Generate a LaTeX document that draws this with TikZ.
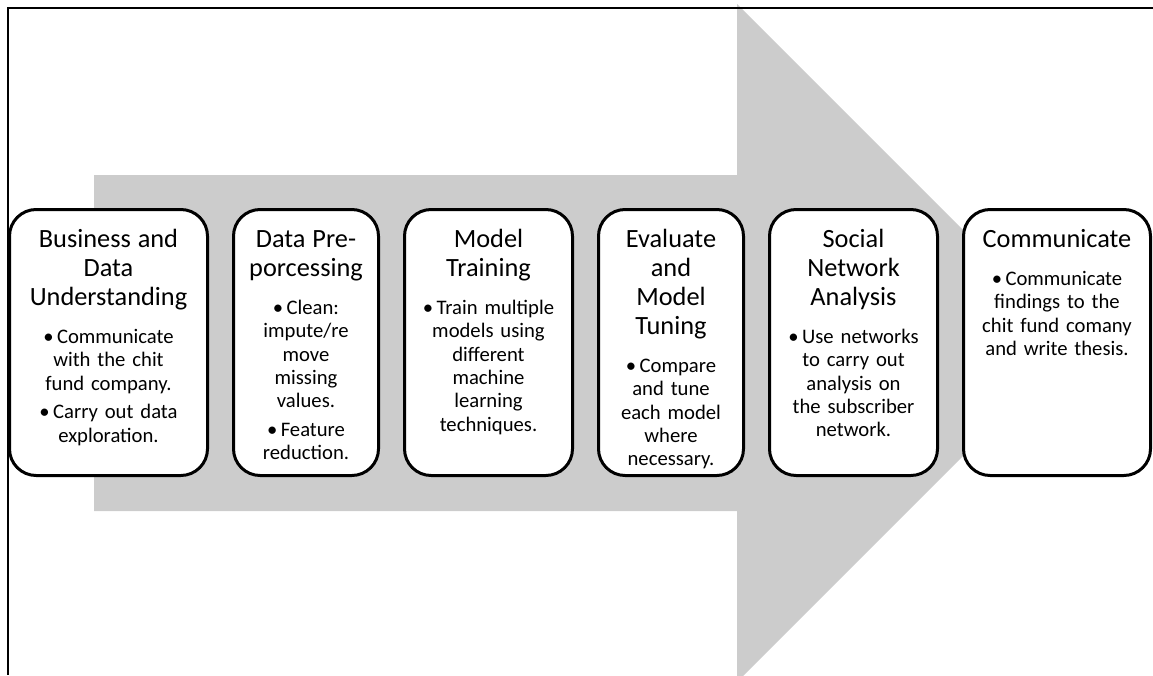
\documentclass[tikz,border=0pt]{standalone}
\usepackage{fontspec}
\setmainfont{Carlito}
\usetikzlibrary{positioning}

\definecolor{arrowgray}{RGB}{204,204,204}
\newcommand{\stagetitle}{\fontsize{19.75}{21.75}\selectfont}

\begin{document}
\begin{tikzpicture}[
  x=0.75pt, y=-0.75pt,
  node distance=17.25pt,
  stage/.style={rectangle, draw, line width=2.25pt, rounded corners=20pt, fill=white, align=center,
    inner xsep=1pt, inner ysep=0pt, text height=28.5pt, text depth=171pt,
    font=\fontsize{15.5}{17.5}\selectfont}
]
\clip (0,0) rectangle (1153,675);

% big arrow behind the stages
\fill[arrowgray] (94,175) -- (737,175) -- (737,4) -- (1076,343) -- (737,682) -- (737,511) -- (94,511) -- cycle;

% frame
\draw[line width=1.5pt] (1153,7.5) -- (7.5,7.5) -- (7.5,675);

\node[stage, text width=146.5pt, anchor=north west] (busi) at (8,208) {
{\stagetitle Business and\\Data\\Understanding\par}\vspace{11pt}
\textbullet\,Communicate\\with the chit\\fund company.\\[4pt]
\textbullet\,Carry out data\\exploration.
};

\node[stage, text width=106.75pt, right=of busi] (prep) {
{\stagetitle Data Pre-\\porcessing\par}\vspace{11pt}
\textbullet\,Clean:\\impute/re\\move\\missing\\values.\\[4pt]
\textbullet\,Feature\\reduction.
};

\node[stage, text width=124pt, right=of prep] (train) {
{\stagetitle Model\\Training\par}\vspace{11pt}
\textbullet\,Train multiple\\models using\\different\\machine\\learning\\techniques.
};

\node[stage, text width=106.75pt, right=of train] (tune) {
{\stagetitle Evaluate\\and\\Model\\Tuning\par}\vspace{11pt}
\textbullet\,Compare\\and tune\\each model\\where\\necessary.
};

\node[stage, text width=124pt, right=of tune] (sna) {
{\stagetitle Social\\Network\\Analysis\par}\vspace{11pt}
\textbullet\,Use networks\\to carry out\\analysis on\\the subscriber\\network.
};

\node[stage, text width=138.25pt, right=of sna] (comm) {
{\stagetitle Communicate\par}\vspace{11pt}
\textbullet\,Communicate\\findings to the\\chit fund comany\\and write thesis.
};

\end{tikzpicture}
\end{document}
